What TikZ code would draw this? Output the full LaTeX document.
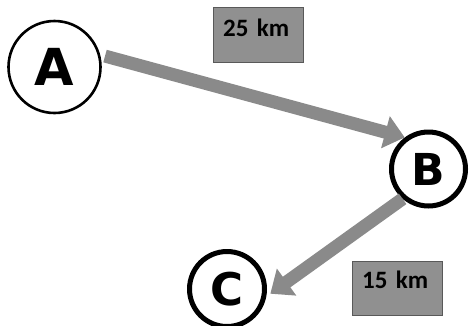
\documentclass[tikz,border=0pt]{standalone}
\usepackage{fontspec}
\usepackage{xcolor}
\usepackage{tikz}
\usetikzlibrary{arrows.meta}

\newfontfamily\placefont{DejaVu Sans}[BoldFont=* Bold]
\newfontfamily\distfont{Carlito}
\definecolor{roadgray}{HTML}{8A8A8A}
\definecolor{boxgray}{HTML}{909090}

\begin{document}
\begin{tikzpicture}[x=1pt, y=-1pt,
    place/.style={draw, circle, fill=white, inner sep=0pt},
    dist/.style={draw=black!65, rectangle, fill=boxgray, anchor=north west, inner xsep=10pt, inner ysep=0pt, text width=70pt, align=left, font=\distfont\bfseries\fontsize{25}{27}\selectfont},
    road/.style={draw=roadgray, line width=13pt, -{Triangle[width=32pt, length=20pt]}}]
    \useasboundingbox (0,0) rectangle (470,325);

    % Places
    \node[place, line width=2.6pt, minimum size=92pt, font=\placefont\bfseries\fontsize{51}{52}\selectfont] (A) at (54.5,67) {A};
    \node[place, line width=5pt, minimum size=74pt, font=\placefont\bfseries\fontsize{44}{45}\selectfont] (B) at (428.5,169) {B};
    \node[place, line width=5pt, minimum size=75pt, font=\placefont\bfseries\fontsize{45}{46}\selectfont] (C) at (227,289) {C};

    % Distances
    \node[dist, text height=29pt, text depth=26pt] (d1) at (213,7) {25 km};
    \node[dist, text height=27pt, text depth=27pt] (d2) at (352,261) {15 km};

    % Roads
    \draw[road, shorten <=5pt] (A.15) -- (B.127);
    \draw[road, shorten >=5pt] (B.229) -- (C.349);
\end{tikzpicture}
\end{document}
